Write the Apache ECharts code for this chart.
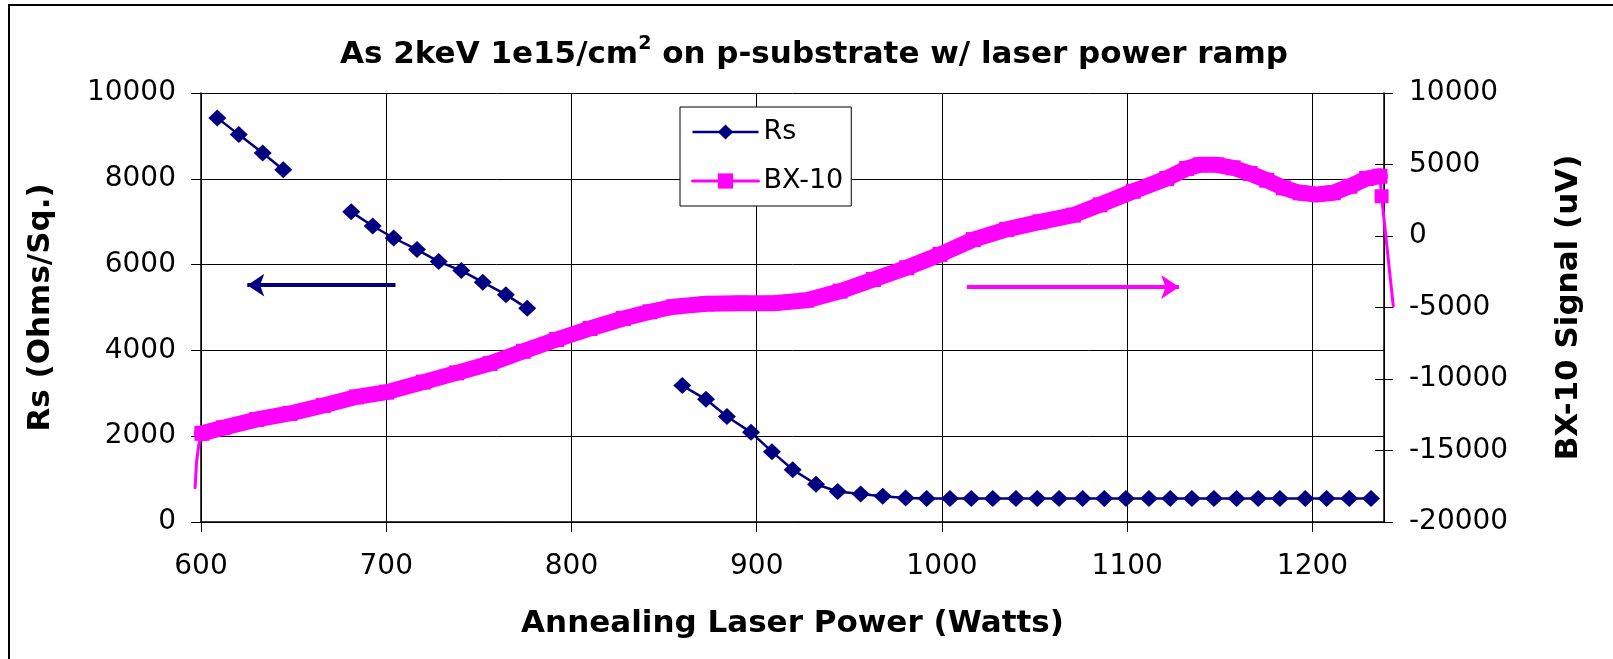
<!DOCTYPE html>
<html><head><meta charset="utf-8">
<script src="https://cdn.jsdelivr.net/npm/echarts@6/dist/echarts.min.js"></script>
<style>html,body{margin:0;padding:0;background:#fff}#c{width:1613px;height:659px}</style>
</head><body><div id="c"></div>
<script>
// ---- Rs (left axis), null = gap in the measurement series
const rsPower = [608.8, 620.4, 633.3, 644.4, 662.0,
  681.1, 692.7, 704.0, 716.6, 728.3, 740.5, 752.1, 764.6, 776.1, 818.0,
  859.8, 872.6, 883.9, 896.9, 908.2, 919.4, 932.0, 943.7, 956.1, 968.0, 980.4, 991.7,
  1004.3, 1015.8, 1027.4, 1039.9, 1051.4, 1063.2, 1075.9, 1087.6, 1099.3, 1111.7,
  1123.2, 1134.9, 1146.8, 1159.0, 1170.7, 1182.4, 1196.1, 1207.6, 1219.8, 1231.6];
const rsValue = [9420, 9030, 8600, 8210, null,
  7230, 6900, 6620, 6350, 6070, 5860, 5590, 5300, 4980, null,
  3180, 2860, 2460, 2090, 1640, 1220, 880, 710, 650, 600, 560, 550,
  550, 550, 550, 550, 550, 550, 550, 550, 550, 550,
  550, 550, 550, 550, 550, 550, 550, 550, 550, 550];

// ---- BX-10 signal (right axis)
const bxPower = [600.5, 612.0, 630.1, 648.0, 666.0, 684.0, 700.2, 720.0, 738.0, 756.0,
  774.0, 792.0, 810.0, 828.0, 842.4, 855.0, 873.0, 891.0, 908.9, 927.0,
  945.0, 963.0, 980.9, 998.9, 1016.9, 1034.9, 1052.9, 1070.9, 1085.3, 1103.3,
  1121.3, 1132.1, 1139.3, 1148.3, 1157.2, 1166.3, 1175.3, 1184.3, 1193.3, 1202.3,
  1211.2, 1220.2, 1229.2, 1236.4];
const bxSignal = [-13800, -13410, -12830, -12410, -11850, -11250, -10920, -10220, -9570, -8920,
  -8060, -7240, -6470, -5770, -5300, -4950, -4740, -4700, -4700, -4490,
  -3860, -3040, -2220, -1290, -250, 460, 990, 1460, 2180, 3130,
  4020, 4720, 4980, 4980, 4770, 4370, 3900, 3370, 3020, 2900,
  3020, 3480, 4020, 4180];
const bxStartPower = [596.8, 597.6, 598.8];
const bxStartSignal = [-17600, -15800, -14600];
const bxEndPower = [1237.3, 1243.6];
const bxEndSignal = [2780, -4910];

// ---- axes
const xRange = [600, 1238.6, 100];
const leftRange = [0, 10000, 2000];
const rightRange = [-20000, 10000, 5000];

// ---- annotation arrows [power, value]
const rsArrow = [[705, 5520], [625, 5520]];
const bxArrow = [[1013.4, -3570], [1128, -3570]];

const FONT = 'DejaVu Sans';
const NAVY = '#000080';
const MAG = '#FF00FF';

const rsData = rsPower.map((w, i) => [w, rsValue[i] == null ? '-' : rsValue[i]]);
const bxMain = bxPower.map((w, i) => [w, bxSignal[i]]);
const last = bxMain.length - 1;
const startTail = bxStartPower.map((w, i) => [w, bxStartSignal[i]]).concat([bxMain[0]]);
const endTail = [bxMain[last]].concat(bxEndPower.map((w, i) => [w, bxEndSignal[i]]));
const endMarker = [[bxEndPower[0], bxEndSignal[0]]];

const chart = echarts.init(document.getElementById('c'), null, {renderer: 'canvas'});
const labelStyle = {fontFamily: FONT, fontSize: 28, color: '#000', formatter: v => String(v)};
const nameStyle = {fontFamily: FONT, fontSize: 31, fontWeight: 'bold', color: '#000'};

chart.setOption({
  animation: false,
  backgroundColor: '#fff',
  title: {
    text: 'As 2keV 1e15/cm{s|2} on p-substrate w/ laser power ramp',
    left: 814, top: 35, padding: 0, textAlign: 'center',
    textStyle: {fontFamily: FONT, fontSize: 31, fontWeight: 'bold', color: '#000', lineHeight: 40,
      rich: {s: {fontFamily: FONT, fontSize: 19, fontWeight: 'bold', color: '#000', verticalAlign: 'top', lineHeight: 19}}}
  },
  graphic: [{type: 'rect', silent: true, z: -10,
    shape: {x: 9, y: 5, width: 1700, height: 700},
    style: {fill: 'none', stroke: '#000', lineWidth: 2}}],
  legend: {
    left: 680, top: 107, orient: 'vertical',
    padding: [10, 8, 10, 11], itemGap: 19, itemWidth: 66, itemHeight: 19,
    borderColor: '#000', borderWidth: 1, backgroundColor: '#fff',
    selectedMode: false,
    textStyle: {fontFamily: FONT, fontSize: 27, color: '#000', lineHeight: 30},
    data: [
      {name: 'Rs', lineStyle: {width: 2.5}},
      {name: 'BX-10', lineStyle: {width: 3}}
    ]
  },
  grid: {left: 201, top: 93, width: 1183, height: 429, containLabel: false},
  xAxis: {
    type: 'value', min: xRange[0], max: xRange[1], interval: xRange[2],
    name: 'Annealing Laser Power (Watts)', nameLocation: 'middle', nameGap: 86,
    nameTextStyle: nameStyle,
    axisLine: {show: true, onZero: false, lineStyle: {color: '#000', width: 1.5}},
    axisTick: {show: true, inside: false, length: 10, lineStyle: {color: '#000'}},
    axisLabel: {margin: 31, showMaxLabel: false, ...labelStyle},
    splitLine: {show: true, lineStyle: {color: '#000', width: 1}}
  },
  yAxis: [
    {
      type: 'value', position: 'left', min: leftRange[0], max: leftRange[1], interval: leftRange[2],
      name: 'Rs (Ohms/Sq.)', nameLocation: 'middle', nameGap: 145, nameRotate: 90,
      nameTextStyle: nameStyle,
      axisLine: {show: true, lineStyle: {color: '#000', width: 1.5}},
      axisTick: {show: true, inside: false, length: 10, lineStyle: {color: '#000'}},
      axisLabel: {margin: 25, ...labelStyle},
      splitLine: {show: true, lineStyle: {color: '#000', width: 1}}
    },
    {
      type: 'value', position: 'right', min: rightRange[0], max: rightRange[1], interval: rightRange[2],
      name: 'BX-10 Signal (uV)', nameLocation: 'middle', nameGap: 169, nameRotate: 90,
      nameTextStyle: nameStyle,
      axisLine: {show: true, lineStyle: {color: '#000', width: 1.5}},
      axisTick: {show: true, inside: false, length: 9, lineStyle: {color: '#000'}},
      axisLabel: {margin: 25, ...labelStyle},
      splitLine: {show: false}
    },
    {
      type: 'value', position: 'right', min: rightRange[0], max: rightRange[1], interval: rightRange[2],
      axisLine: {show: false},
      axisTick: {show: true, inside: true, length: 9, lineStyle: {color: '#000'}},
      axisLabel: {show: false},
      splitLine: {show: false}
    }
  ],
  series: [
    {
      name: 'BX-10 tails', type: 'lines', coordinateSystem: 'cartesian2d', xAxisIndex: 0, yAxisIndex: 1,
      polyline: true, clip: false, silent: true, z: 2,
      lineStyle: {color: MAG, width: 3, opacity: 1, cap: 'round', join: 'round'},
      data: [{coords: startTail}, {coords: endTail}]
    },
    {
      name: 'BX-10 end', type: 'scatter', yAxisIndex: 1, data: endMarker, silent: true, z: 3,
      symbol: 'rect', symbolSize: 14, itemStyle: {color: MAG, opacity: 1}
    },
    {
      name: 'BX-10', type: 'line', yAxisIndex: 1, data: bxMain,
      symbol: 'rect', symbolSize: 15, showSymbol: true, silent: true, z: 3,
      itemStyle: {color: MAG},
      lineStyle: {color: MAG, width: 16, cap: 'round', join: 'round'},
      markLine: {
        silent: true, symbol: ['none', 'arrow'], symbolSize: [18, 18],
        label: {show: false},
        lineStyle: {color: MAG, width: 4, type: 'solid'},
        data: [[{coord: bxArrow[0]}, {coord: bxArrow[1]}]]
      }
    },
    {
      name: 'Rs', type: 'line', yAxisIndex: 0, data: rsData, connectNulls: false,
      symbol: 'diamond', symbolSize: [18, 17], showSymbol: true, silent: true, z: 4,
      itemStyle: {color: NAVY},
      lineStyle: {color: NAVY, width: 2.5},
      markLine: {
        silent: true, symbol: ['none', 'arrow'], symbolSize: [17, 17],
        label: {show: false},
        lineStyle: {color: NAVY, width: 4, type: 'solid'},
        data: [[{coord: rsArrow[0]}, {coord: rsArrow[1]}]]
      }
    }
  ]
});
</script>
</body></html>
